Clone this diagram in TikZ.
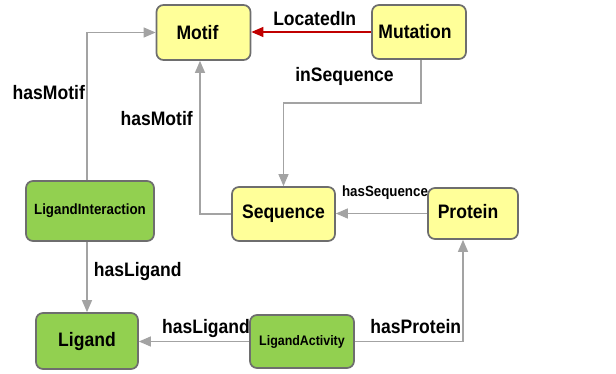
\documentclass[tikz,border=0pt]{standalone}
\usepackage{fontspec}
\setmainfont[FakeStretch=0.9]{Liberation Sans}
\usetikzlibrary{arrows.meta}
\definecolor{boxyellow}{HTML}{FFFF99}
\definecolor{boxgreen}{HTML}{92D050}
\definecolor{boxborder}{HTML}{6E6E6E}
\definecolor{linegray}{HTML}{A3A3A3}
\definecolor{linered}{HTML}{C00000}
\tikzset{
  box/.style={draw=boxborder, line width=1.7pt, rounded corners=7pt, inner sep=0pt, font=\bfseries\fontsize{19.5}{22}\selectfont},
  ybox/.style={box, fill=boxyellow},
  gbox/.style={box, fill=boxgreen},
  conn/.style={draw=linegray, line width=1.2pt, -{Triangle[length=12pt,width=10pt]}},
  redconn/.style={draw=linered, line width=1.2pt, -{Triangle[length=12pt,width=10pt]}},
  lbl/.style={inner sep=0pt, font=\bfseries\fontsize{19.5}{22}\selectfont},
  slbl/.style={inner sep=0pt, font=\bfseries\fontsize{14.8}{17}\selectfont}
}
\begin{document}
\begin{tikzpicture}[x=1pt,y=1pt]
\useasboundingbox (0,0) rectangle (616,373);
\node[ybox, minimum width=94pt, minimum height=55pt] (motif) at (203.5,340.5) {\hspace*{-12pt}Motif};
\node[ybox, minimum width=94pt, minimum height=54pt] (mutation) at (419,341) {\hspace*{-8pt}Mutation};
\node[gbox, minimum width=128pt, minimum height=60pt, font=\bfseries\fontsize{14.8}{17}\selectfont] (ligint) at (90,162) {LigandInteraction};
\node[ybox, minimum width=103pt, minimum height=54pt] (sequence) at (283.5,159) {\raisebox{2pt}{Sequence}};
\node[ybox, minimum width=90pt, minimum height=51pt] (protein) at (473,159.5) {\hspace*{-10pt}\raisebox{4pt}{Protein}};
\node[gbox, minimum width=102pt, minimum height=56pt] (ligand) at (87,32) {Ligand};
\node[gbox, minimum width=104pt, minimum height=53pt, font=\bfseries\fontsize{13.8}{16}\selectfont] (ligact) at (302,31.5) {LigandActivity};

\draw[redconn] (mutation.west) -- (motif.east |- mutation.west);
\draw[conn] ([xshift=-3pt]ligint.north) |- (motif.west);
\draw[conn] (sequence.west) -| ([xshift=-3.5pt]motif.south);
\coordinate (mutdown) at (421,270);
\draw[conn] (mutdown |- mutation.south) -- (mutdown) -| (sequence.north);
\draw[conn] (protein.west) -- (sequence.east |- protein.west);
\draw[conn] ([xshift=-3pt]ligint.south) -- ([xshift=-3pt]ligint.south |- ligand.north);
\draw[conn] (ligact.west) -- (ligand.east |- ligact.west);
\draw[conn] (ligact.east) -| ([xshift=-10pt]protein.south);

\node[lbl] (l1) at (314.7,354) {LocatedIn};
\node[lbl] (l2) at (48.8,280) {hasMotif};
\node[lbl] (l3) at (156.7,254) {hasMotif};
\node[lbl] (l4) at (344.5,297) {inSequence};
\node[slbl] (l5) at (385,180.5) {hasSequence};
\node[lbl] (l6) at (137.7,102) {hasLigand};
\node[lbl] (l7) at (206,45) {hasLigand};
\node[lbl] (l8) at (415.8,46) {hasProtein};
\end{tikzpicture}
\end{document}
